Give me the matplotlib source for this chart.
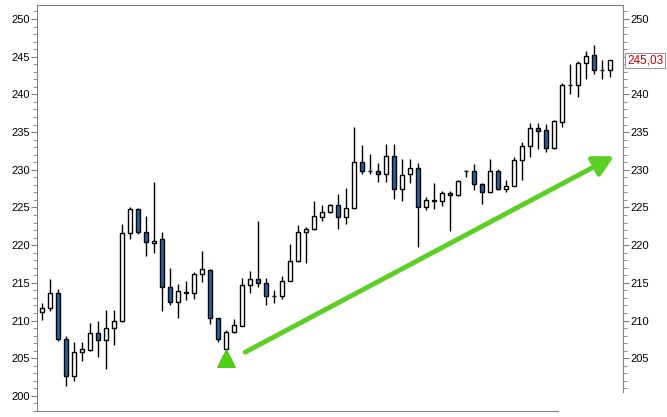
import matplotlib
matplotlib.use("Agg")
import matplotlib.pyplot as plt
from matplotlib.ticker import FixedLocator
import numpy as np

# OHLC, one entry per session
opens = [211.1, 211.7, 213.7, 207.6, 202.6, 205.8, 206.1, 208.4, 207.4, 209.0,
         209.9, 221.6, 224.8, 221.8, 220.3, 220.8, 214.5, 212.5, 213.7, 213.7,
         216.2, 216.7, 210.3, 206.2, 208.5, 209.3, 214.7, 215.5, 215.0, 213.3,
         213.3, 215.3, 217.9, 221.7, 222.1, 223.8, 224.4, 225.3, 223.7, 224.9,
         231.0, 229.8, 229.9, 229.4, 231.8, 227.5, 229.4, 230.2, 225.0, 225.9,
         225.9, 226.9, 226.6, 229.85, 229.8, 228.1, 227.0, 229.8, 227.5, 227.9,
         231.25, 233.2, 235.6, 235.3, 232.9, 236.4, 241.2, 241.25, 244.1, 245.2,
         243.2, 243.2]
closes = [211.7, 213.7, 207.5, 202.6, 205.8, 206.2, 208.3, 207.4, 209.0, 209.9,
          221.6, 224.8, 221.8, 220.4, 220.6, 214.5, 212.5, 213.9, 213.8, 216.2,
          216.8, 210.3, 207.6, 208.5, 209.4, 214.7, 215.5, 215.0, 213.2, 213.3,
          215.3, 217.9, 221.7, 222.1, 223.9, 224.4, 225.3, 223.7, 224.9, 231.0,
          229.8, 229.9, 229.4, 231.8, 227.5, 229.3, 230.2, 225.0, 226.0, 226.0,
          226.9, 226.6, 228.5, 229.9, 228.1, 227.0, 229.8, 227.5, 227.9, 231.25,
          233.2, 235.5, 235.1, 232.9, 236.5, 241.2, 241.3, 244.2, 245.1, 243.2,
          243.3, 244.5]
highs = [212.3, 215.5, 214.2, 208.0, 207.2, 207.1, 209.7, 209.9, 211.4, 211.4,
         222.8, 225.1, 224.9, 223.9, 228.4, 221.8, 217.0, 214.9, 215.2, 216.5,
         219.2, 216.9, 210.4, 208.8, 210.2, 215.7, 216.6, 223.2, 215.6, 214.1,
         215.9, 220.1, 222.7, 222.4, 225.9, 225.3, 225.5, 226.8, 227.6, 235.7,
         233.3, 232.1, 230.9, 233.4, 233.4, 231.4, 231.4, 230.9, 226.4, 228.2,
         227.2, 227.2, 228.7, 230.0, 230.8, 228.2, 231.4, 230.1, 228.7, 231.7,
         233.7, 236.2, 236.2, 236.1, 236.6, 241.5, 244.0, 244.4, 245.7, 246.5,
         244.5, 244.6]
lows = [210.1, 211.2, 207.3, 201.3, 202.0, 204.6, 206.0, 205.2, 203.6, 206.8,
        209.8, 220.8, 221.5, 218.6, 218.9, 211.3, 212.0, 210.3, 212.7, 212.9,
        215.1, 209.5, 207.1, 206.1, 208.4, 209.3, 213.7, 214.4, 212.0, 212.3,
        212.9, 215.2, 217.8, 217.6, 222.0, 223.2, 224.3, 222.1, 222.8, 224.8,
        229.5, 229.4, 228.4, 228.4, 226.1, 225.9, 228.2, 219.8, 224.6, 224.8,
        225.2, 221.9, 226.5, 229.0, 227.3, 225.4, 226.9, 227.3, 227.0, 227.8,
        228.7, 231.7, 232.7, 232.4, 232.8, 235.7, 240.0, 239.7, 242.1, 242.7,
        242.0, 242.3]

signal_idx = 23          # buy marker under this candle
signal_price = 205.0
trend_start = (25.4, 205.8)
trend_end = (71.5, 231.8)
last_label = "245,03"

left_major = list(range(200, 251, 5))
left_minor = list(range(198, 252))
right_major = list(range(205, 251, 5))
right_minor = list(range(201, 252))
# 245 on the right sits under the last-price box
right_labels = ["" if v == 245 else str(v) for v in right_major]

plt.rcParams['font.family'] = ['Liberation Sans', 'DejaVu Sans']

fig = plt.figure(figsize=(6.67, 4.17), dpi=100)
ax = fig.add_axes([37 / 667, 1 - 411 / 417, (623 - 37) / 667, (411 - 5) / 417])

x = np.arange(len(opens))
o = np.array(opens)
c = np.array(closes)
up = c >= o

# wicks
ax.vlines(x, lows, highs, color='black', lw=1, zorder=2)
# bodies
ax.bar(x[up], (c - o)[up], bottom=o[up], width=0.62, color='white',
       edgecolor='black', linewidth=1, zorder=3)
ax.bar(x[~up], (o - c)[~up], bottom=c[~up], width=0.62, color='#1b6aa5',
       edgecolor='black', linewidth=1, zorder=3)

# signal marker and trend arrow
ax.plot([signal_idx], [signal_price], marker='^', ms=13, color='#4fd40f',
        mec='#3cb00a', mew=0.5, zorder=4, clip_on=False)
ax.annotate("", xy=trend_end, xytext=trend_start,
            arrowprops=dict(arrowstyle='-|>,head_length=0.6,head_width=0.32',
                            lw=3.5, color='#5ccf25', mutation_scale=20,
                            shrinkA=0, shrinkB=0),
            zorder=4)

ax.set_xlim(-0.625, 72.625)
ax.set_ylim(198.0, 251.86)
ax.set_xticks([])

gray = '#808080'
for side in ['left', 'top', 'bottom']:
    ax.spines[side].set_color(gray)
ax.spines['right'].set_visible(False)
ax.spines['bottom'].set_bounds(-0.625, 64.5)

ax.yaxis.set_major_locator(FixedLocator(left_major))
ax.yaxis.set_minor_locator(FixedLocator(left_minor))
ax.tick_params(axis='y', which='major', length=4, color=gray, labelsize=8,
               pad=1)
ax.tick_params(axis='y', which='minor', length=3, color=gray)

ax2 = ax.twinx()
ax2.set_ylim(ax.get_ylim())
for side in ['left', 'top', 'bottom']:
    ax2.spines[side].set_visible(False)
ax2.spines['right'].set_color(gray)
ax2.spines['right'].set_bounds(200.5, 251.86)
ax2.set_yticks(right_major, right_labels)
ax2.yaxis.set_minor_locator(FixedLocator(right_minor))
ax2.tick_params(axis='y', which='major', length=4, color=gray, labelsize=8,
                pad=1)
ax2.tick_params(axis='y', which='minor', length=3, color=gray)

# last price box
ax2.text(1.007, closes[-1], last_label, transform=ax2.get_yaxis_transform(),
         ha='left', va='center', fontsize=8.5, color='#cc0000', zorder=10,
         clip_on=False,
         bbox=dict(boxstyle='square,pad=0.15', fc='white', ec='#999999', lw=0.8))

fig.savefig("out.png", dpi=100)
